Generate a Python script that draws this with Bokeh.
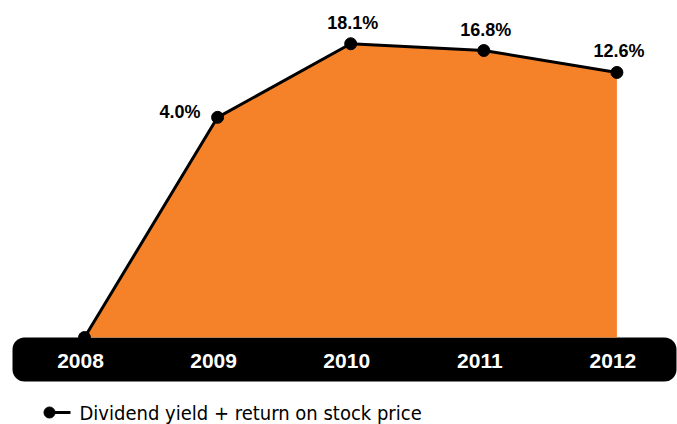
from bokeh.plotting import figure
from bokeh.models import Range1d, ColumnDataSource, BoxAnnotation, Label
from bokeh.core.properties import value
from bokeh.embed import file_html
from bokeh.resources import INLINE

# ---- data ----
years = ["2008", "2009", "2010", "2011", "2012"]
returns = [-38.2, 4.0, 18.1, 16.8, 12.6]
value_labels = ["", "4.0%", "18.1%", "16.8%", "12.6%"]
legend_text = "Dividend yield + return on stock price"

ORANGE = "#F58229"
W, H = 677, 424
X_PX = 133.1            # pixels per year step
X0_PX = 84              # canvas x of first year
Y_PX = 5.218            # pixels per percentage point
Y0_PX = 137.7           # canvas y (from top) of 0 %

xs = list(range(len(years)))
x_start = -X0_PX / X_PX
x_end = x_start + W / X_PX
y_end = Y0_PX / Y_PX
y_start = y_end - H / Y_PX

def dx(px):  # canvas px -> data x
    return x_start + px / X_PX

def dy(px):  # canvas px from top -> data y
    return y_end - px / Y_PX

p = figure(width=W, height=H, output_backend="svg", toolbar_location=None,
           x_range=Range1d(x_start, x_end), y_range=Range1d(y_start, y_end),
           min_border=0, min_border_left=0, min_border_right=0,
           min_border_top=0, min_border_bottom=0)
p.axis.visible = False
p.grid.visible = False
p.outline_line_color = None
p.background_fill_color = "white"
p.border_fill_color = "white"

src = ColumnDataSource(dict(x=xs, y=returns, lab=value_labels, yr=years,
                            base=[returns[0]] * len(xs)))

# black rounded timeline bar
bar = BoxAnnotation(left=dx(12), right=dx(676), top=dy(337), bottom=dy(381),
                    fill_color="black", fill_alpha=1.0, line_color=None,
                    border_radius=12, level="underlay")
p.add_layout(bar)

p.varea(x="x", y1="base", y2="y", source=src, fill_color=ORANGE)
p.line(x="x", y="y", source=src, line_color="black", line_width=3)
p.scatter(x="x", y="y", source=src, size=12, fill_color="black", line_color="black")

# year labels in the bar
p.text(x="x", y=dy(360), text="yr", source=src, text_color="white",
       text_font=value("Liberation Sans"), text_font_style="bold",
       text_font_size="21px", text_align="center", text_baseline="middle",
       x_offset=-4)

# value labels
lab_src = ColumnDataSource(dict(x=xs[2:], y=returns[2:], lab=value_labels[2:]))
p.text(x="x", y="y", text="lab", source=lab_src, text_color="black",
       text_font=value("Liberation Sans"), text_font_style="bold",
       text_font_size="18px", text_align="center", text_baseline="middle",
       x_offset=2, y_offset=-21)
lab_src2 = ColumnDataSource(dict(x=xs[1:2], y=returns[1:2], lab=value_labels[1:2]))
p.text(x="x", y="y", text="lab", source=lab_src2, text_color="black",
       text_font=value("Liberation Sans"), text_font_style="bold",
       text_font_size="18px", text_align="right", text_baseline="middle",
       x_offset=-17, y_offset=-5)

# legend
p.line(x=[dx(49), dx(70)], y=[dy(412), dy(412)], line_color="black", line_width=3)
p.scatter(x=[dx(49)], y=[dy(412)], size=11, fill_color="black", line_color="black")
p.add_layout(Label(x=79, y=H - 412, x_units="screen", y_units="screen",
                   text=legend_text,
                   text_font="'DejaVu Sans Condensed', 'Liberation Sans Narrow', Roboto, sans-serif",
                   text_font_size="20px", text_color="black",
                   text_baseline="middle", text_align="left"))

open("out.html", "w").write(file_html(p, INLINE))
